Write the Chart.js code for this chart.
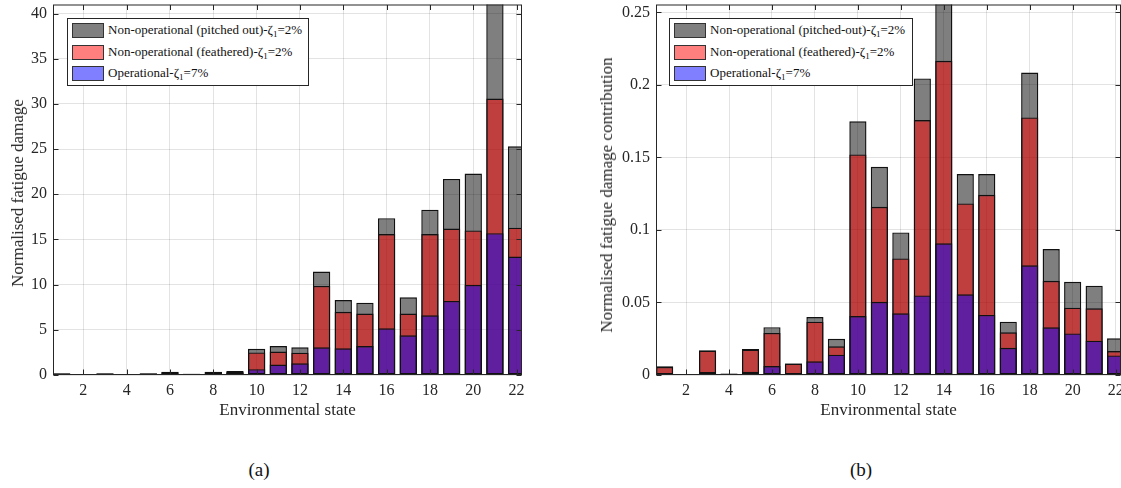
<!DOCTYPE html>
<html>
<head>
<meta charset="utf-8">
<script src="https://cdn.jsdelivr.net/npm/chart.js@4.4.1/dist/chart.umd.min.js"></script>
<style>
  body { margin: 0; background: #fff; width: 1121px; height: 488px; overflow: hidden; position: relative;
         font-family: "Liberation Serif", "DejaVu Serif", serif; color: #262626; }
  canvas { position: absolute; top: 0; }
  .legend { position: absolute; border: 1px solid #262626; background: #fff; box-sizing: border-box; }
  .row { position: absolute; left: 4px; height: 15px; white-space: nowrap; }
  .sw { position: absolute; left: 0; top: 0; width: 32px; height: 15px; box-sizing: border-box; border: 1.5px solid #333; }
  .lt { position: absolute; left: 36px; top: -1px; font-size: 13px; line-height: 16px; color: #111; }
  .lt sub { font-size: 9px; vertical-align: -3px; line-height: 0; }
  .ytitle { position: absolute; white-space: nowrap; font-size: 17px; line-height: 20px;
            transform: translate(-50%, -50%) rotate(-90deg); color: #262626; }
  .cap { position: absolute; font-size: 19px; transform: translate(-50%, -50%); color: #111; }
</style>
</head>
<body>
<canvas id="damage" width="540" height="430" style="left:0"></canvas>
<canvas id="contrib" width="561" height="430" style="left:560px"></canvas>

<div class="ytitle" style="left:18px; top:193px">Normalised fatigue damage</div>
<div class="ytitle" style="left:607px; top:195px">Normalised fatigue damage contribution</div>

<div class="legend" style="left:67px; top:18px; width:242px; height:68px">
  <div class="row" style="top:4px"><span class="sw" style="background:rgba(0,0,0,0.5)"></span><span class="lt">Non-operational (pitched out)-ζ<sub>1</sub>=2%</span></div>
  <div class="row" style="top:25.5px"><span class="sw" style="background:rgba(255,0,0,0.5)"></span><span class="lt">Non-operational (feathered)-ζ<sub>1</sub>=2%</span></div>
  <div class="row" style="top:46.5px"><span class="sw" style="background:rgba(0,0,255,0.5)"></span><span class="lt">Operational-ζ<sub>1</sub>=7%</span></div>
</div>
<div class="legend" style="left:669px; top:18px; width:244px; height:68px">
  <div class="row" style="top:4px"><span class="sw" style="background:rgba(0,0,0,0.5)"></span><span class="lt">Non-operational (pitched-out)-ζ<sub>1</sub>=2%</span></div>
  <div class="row" style="top:25.5px"><span class="sw" style="background:rgba(255,0,0,0.5)"></span><span class="lt">Non-operational (feathered)-ζ<sub>1</sub>=2%</span></div>
  <div class="row" style="top:46.5px"><span class="sw" style="background:rgba(0,0,255,0.5)"></span><span class="lt">Operational-ζ<sub>1</sub>=7%</span></div>
</div>

<div class="cap" style="left:259px; top:470px">(a)</div>
<div class="cap" style="left:861px; top:470px">(b)</div>

<script>
// Environmental states on the horizontal axis
const states = [1, 2, 3, 4, 5, 6, 7, 8, 9, 10, 11, 12, 13, 14, 15, 16, 17, 18, 19, 20, 21, 22];
const stateTicks = [2, 4, 6, 8, 10, 12, 14, 16, 18, 20, 22];

// (a) normalised fatigue damage per state
const damagePitchedOut = [0.18, 0.08, 0.18, 0.08, 0.18, 0.35, 0.15, 0.37, 0.44, 2.9, 3.2, 3.07, 11.45, 8.3, 8.0, 17.35, 8.6, 18.3, 21.7, 22.3, 44.0, 25.3];
const damageFeathered  = [0.17, 0.05, 0.17, 0.05, 0.17, 0.30, 0.14, 0.33, 0.35, 2.5, 2.6, 2.47, 9.86, 7.0, 6.8, 15.6, 6.8, 15.6, 16.2, 16.0, 30.6, 16.3];
const damageOperational = [0.01, 0.01, 0.02, 0.01, 0.02, 0.07, 0.02, 0.08, 0.26, 0.65, 1.15, 1.3, 3.07, 2.95, 3.2, 5.17, 4.4, 6.6, 8.2, 9.97, 15.7, 13.1];
const damageTicks = [0, 5, 10, 15, 20, 25, 30, 35, 40];

// (b) normalised fatigue damage contribution per state
const contribPitchedOut = [0.006, 0.0005, 0.017, 0.001, 0.018, 0.033, 0.008, 0.040, 0.025, 0.175, 0.1436, 0.0983, 0.2045, 0.27, 0.1386, 0.1386, 0.0368, 0.2086, 0.0869, 0.0643, 0.0616, 0.0253];
const contribFeathered  = [0.0057, 0.0004, 0.0168, 0.0009, 0.0175, 0.029, 0.0079, 0.0368, 0.0198, 0.1521, 0.116, 0.0804, 0.1758, 0.2167, 0.1183, 0.1243, 0.0294, 0.1776, 0.065, 0.0464, 0.046, 0.0165];
const contribOperational = [0.0003, 0.0002, 0.002, 0.0005, 0.0023, 0.0062, 0.001, 0.0094, 0.014, 0.0407, 0.0505, 0.0425, 0.0549, 0.0908, 0.0556, 0.0414, 0.0188, 0.0756, 0.0329, 0.0287, 0.0237, 0.0135];
const contribTicks = [0, 0.05, 0.1, 0.15, 0.2, 0.25];

const FONT = '"Liberation Serif", "DejaVu Serif", serif';
const AXIS = '#262626';
const GRID = 'rgba(0,0,0,0.11)';

// box around the plot area with inward tick marks on all four sides
const framePlugin = {
  id: 'frame',
  afterDraw(chart) {
    const { ctx, chartArea: a, scales } = chart;
    const L = a.left + 0.5, R = a.right - 0.5, T = a.top + 0.5, B = a.bottom - 0.5;
    ctx.save();
    ctx.strokeStyle = AXIS;
    ctx.lineWidth = 1;
    ctx.strokeRect(L, T, R - L, B - T);
    ctx.beginPath();
    scales.x.ticks.forEach(t => {
      const x = Math.round(scales.x.getPixelForValue(t.value)) + 0.5;
      ctx.moveTo(x, B); ctx.lineTo(x, B - 5);
      ctx.moveTo(x, T); ctx.lineTo(x, T + 5);
    });
    scales.y.ticks.forEach(t => {
      const y = Math.round(scales.y.getPixelForValue(t.value)) + 0.5;
      ctx.moveTo(L, y); ctx.lineTo(L + 5, y);
      ctx.moveTo(R, y); ctx.lineTo(R - 5, y);
    });
    ctx.stroke();
    ctx.restore();
  }
};

// keep the plot area fixed: no extra room reserved for edge labels
function noLabelPadding(s) {
  s.paddingTop = 0; s.paddingBottom = 0; s.paddingLeft = 0; s.paddingRight = 0;
}

function series(values) {
  return states.map((s, i) => ({ x: s, y: values[i] }));
}

function barSet(label, values, fill) {
  return {
    label,
    data: series(values),
    backgroundColor: fill,
    borderColor: '#111',
    borderWidth: 1.4,
    borderSkipped: false,
    grouped: false,
    categoryPercentage: 1,
    barPercentage: 0.8,
    clip: 0
  };
}

function panel(id, operational, feathered, pitchedOut, yMax, yTicks, yAxisWidth, padRight) {
  return new Chart(document.getElementById(id), {
    type: 'bar',
    data: {
      // first dataset is painted last, so the operational bars sit on top
      datasets: [
        barSet('Operational', operational, 'rgba(0,0,255,0.5)'),
        barSet('Non-operational (feathered)', feathered, 'rgba(255,0,0,0.5)'),
        barSet('Non-operational (pitched out)', pitchedOut, 'rgba(0,0,0,0.5)')
      ]
    },
    options: {
      responsive: false,
      devicePixelRatio: 1,
      animation: false,
      layout: { autoPadding: false, padding: { top: 4.5, right: padRight, bottom: 0, left: 0 } },
      plugins: { legend: { display: false }, tooltip: { enabled: false } },
      scales: {
        x: {
          type: 'linear',
          offset: false,
          min: 0.6,
          max: 22.25,
          afterBuildTicks: s => { s.ticks = stateTicks.map(v => ({ value: v })); },
          afterFit: s => { s.height = 55; noLabelPadding(s); },
          grid: { color: GRID, lineWidth: 1, drawTicks: false, offset: false },
          border: { display: false },
          ticks: { padding: 6, color: AXIS, font: { family: FONT, size: 16 }, callback: v => String(v), maxRotation: 0, autoSkip: false },
          title: { display: true, text: 'Environmental state', color: AXIS, font: { family: FONT, size: 17 }, padding: { top: 0, bottom: 9 } }
        },
        y: {
          type: 'linear',
          min: 0,
          max: yMax,
          afterBuildTicks: s => { s.ticks = yTicks.map(v => ({ value: v })); },
          afterFit: s => { s.width = yAxisWidth; noLabelPadding(s); },
          grid: { color: GRID, lineWidth: 1, drawTicks: false },
          border: { display: false },
          ticks: { padding: 6, color: AXIS, font: { family: FONT, size: 16 }, callback: v => String(+v.toFixed(2)), autoSkip: false }
        }
      }
    },
    plugins: [framePlugin]
  });
}

panel('damage', damageOperational, damageFeathered, damagePitchedOut, 41, damageTicks, 53, 18);
panel('contrib', contribOperational, contribFeathered, contribPitchedOut, 0.2555, contribTicks, 96, 0);
</script>
</body>
</html>
